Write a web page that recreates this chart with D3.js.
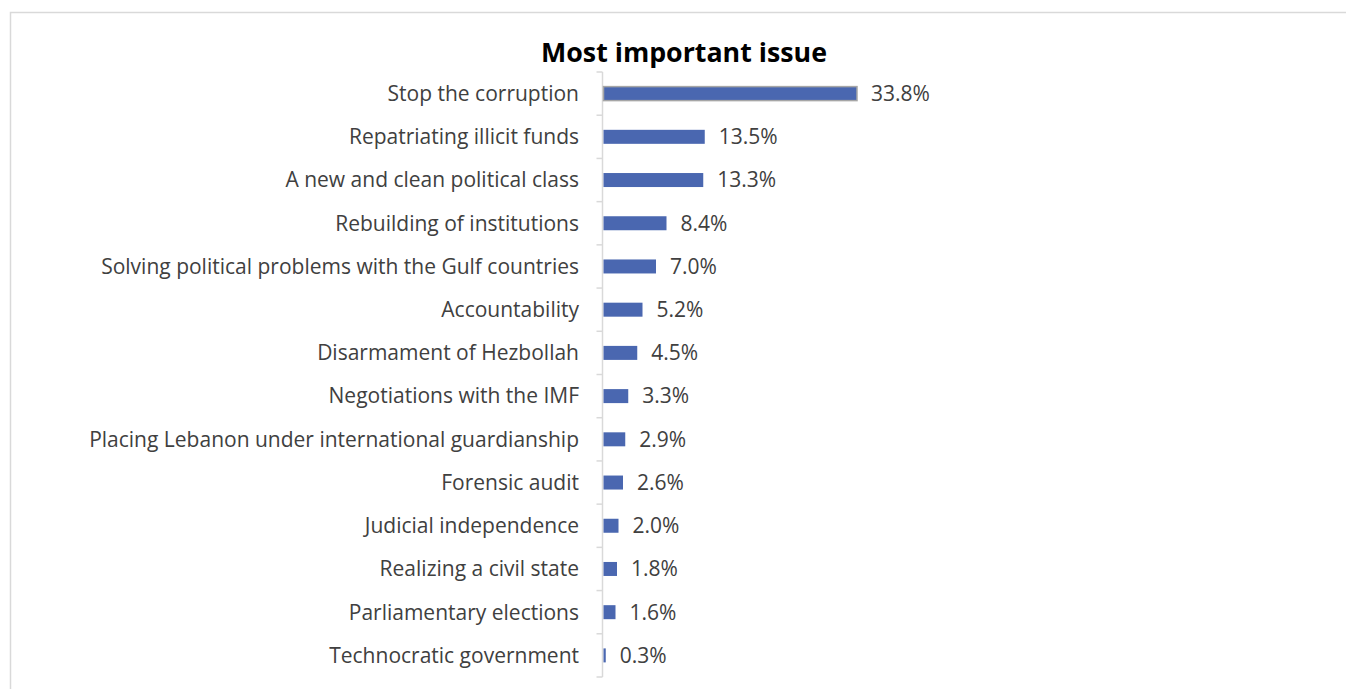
<!DOCTYPE html>
<html><head><meta charset="utf-8">
<script src="https://d3js.org/d3.v7.min.js"></script>
<style>
body{margin:0;background:#fff;}
svg{display:block;}
</style></head>
<body>
<svg id="chart" width="1346" height="689"></svg>
<script>
const categories = [
  "Stop the corruption",
  "Repatriating illicit funds",
  "A new and clean political class",
  "Rebuilding of institutions",
  "Solving political problems with the Gulf countries",
  "Accountability",
  "Disarmament of Hezbollah",
  "Negotiations with the IMF",
  "Placing Lebanon under international guardianship",
  "Forensic audit",
  "Judicial independence",
  "Realizing a civil state",
  "Parliamentary elections",
  "Technocratic government"
];
const values = [33.8, 13.5, 13.3, 8.4, 7.0, 5.2, 4.5, 3.3, 2.9, 2.6, 2.0, 1.8, 1.6, 0.3];
const title = "Most important issue";

const svg = d3.select("#chart");
const W = 1346, H = 689;

// frame
svg.append("path")
  .attr("d", `M10.5,${H} L10.5,12.5 L${W},12.5`)
  .attr("fill","none").attr("stroke","#d9d9d9").attr("stroke-width",1.5);

const font = "'Open Sans', 'Liberation Sans', sans-serif";
const axisX = 602.5;
const x = d3.scaleLinear().domain([0, 33.8]).range([axisX + 1, 857]);
const y = d3.scaleBand().domain(categories).range([72, 677]).paddingInner(0.68).paddingOuter(0.34);

const tt = svg.append("text")
  .attr("x", 684).attr("y", 62)
  .attr("text-anchor","middle")
  .attr("font-family","'Open Sans', 'Liberation Sans', sans-serif")
  .attr("font-weight","bold").attr("font-size", 24).attr("fill","#000")
  .text(title);
tt.attr("font-size", 24 * 286 / tt.node().getComputedTextLength());

// axis
const g = svg.append("g");
g.append("line").attr("x1",axisX).attr("x2",axisX).attr("y1",72).attr("y2",677)
  .attr("stroke","#d9d9d9").attr("stroke-width",1.5);
const ticks = d3.range(categories.length + 1).map(i => 72 + i * (605 / categories.length));
g.selectAll(".tk").data(ticks).enter().append("line")
  .attr("x1",axisX - 6).attr("x2",axisX).attr("y1",d=>d).attr("y2",d=>d)
  .attr("stroke","#d9d9d9").attr("stroke-width",1.5);

// bars
svg.selectAll(".bar").data(values).enter().append("rect")
  .attr("x", x(0))
  .attr("y", (d,i) => y(categories[i]) + y.bandwidth()/2 - 7)
  .attr("width", d => x(d) - x(0))
  .attr("height", 14)
  .attr("fill", "#4a67b0");
// outline on top bar
svg.append("rect")
  .attr("x", x(0)).attr("y", y(categories[0]) + y.bandwidth()/2 - 7)
  .attr("width", x(values[0]) - x(0)).attr("height", 14)
  .attr("fill","none").attr("stroke","#a6a6a6").attr("stroke-width",1.5);

// category labels
const labels = svg.selectAll(".lab").data(categories).enter().append("text")
  .attr("x", 579)
  .attr("y", d => y(d) + y.bandwidth()/2)
  .attr("dy","0.35em")
  .attr("text-anchor","end")
  .attr("font-family", font)
  .attr("font-size", 17)
  .attr("fill","#404040")
  .text(d => d);

// fit longest label to target width
const longest = labels.filter(d => d === categories[4]).node();
const wl = longest.getComputedTextLength();
const fs = 17 * 478 / wl;
labels.attr("font-size", fs);

// value labels
svg.selectAll(".val").data(values).enter().append("text")
  .attr("x", d => x(d) + 14)
  .attr("y", (d,i) => y(categories[i]) + y.bandwidth()/2)
  .attr("dy","0.35em")
  .attr("font-family", font)
  .attr("font-size", fs)
  .attr("fill","#404040")
  .text(d => d.toFixed(1) + "%");
</script>
</body></html>
